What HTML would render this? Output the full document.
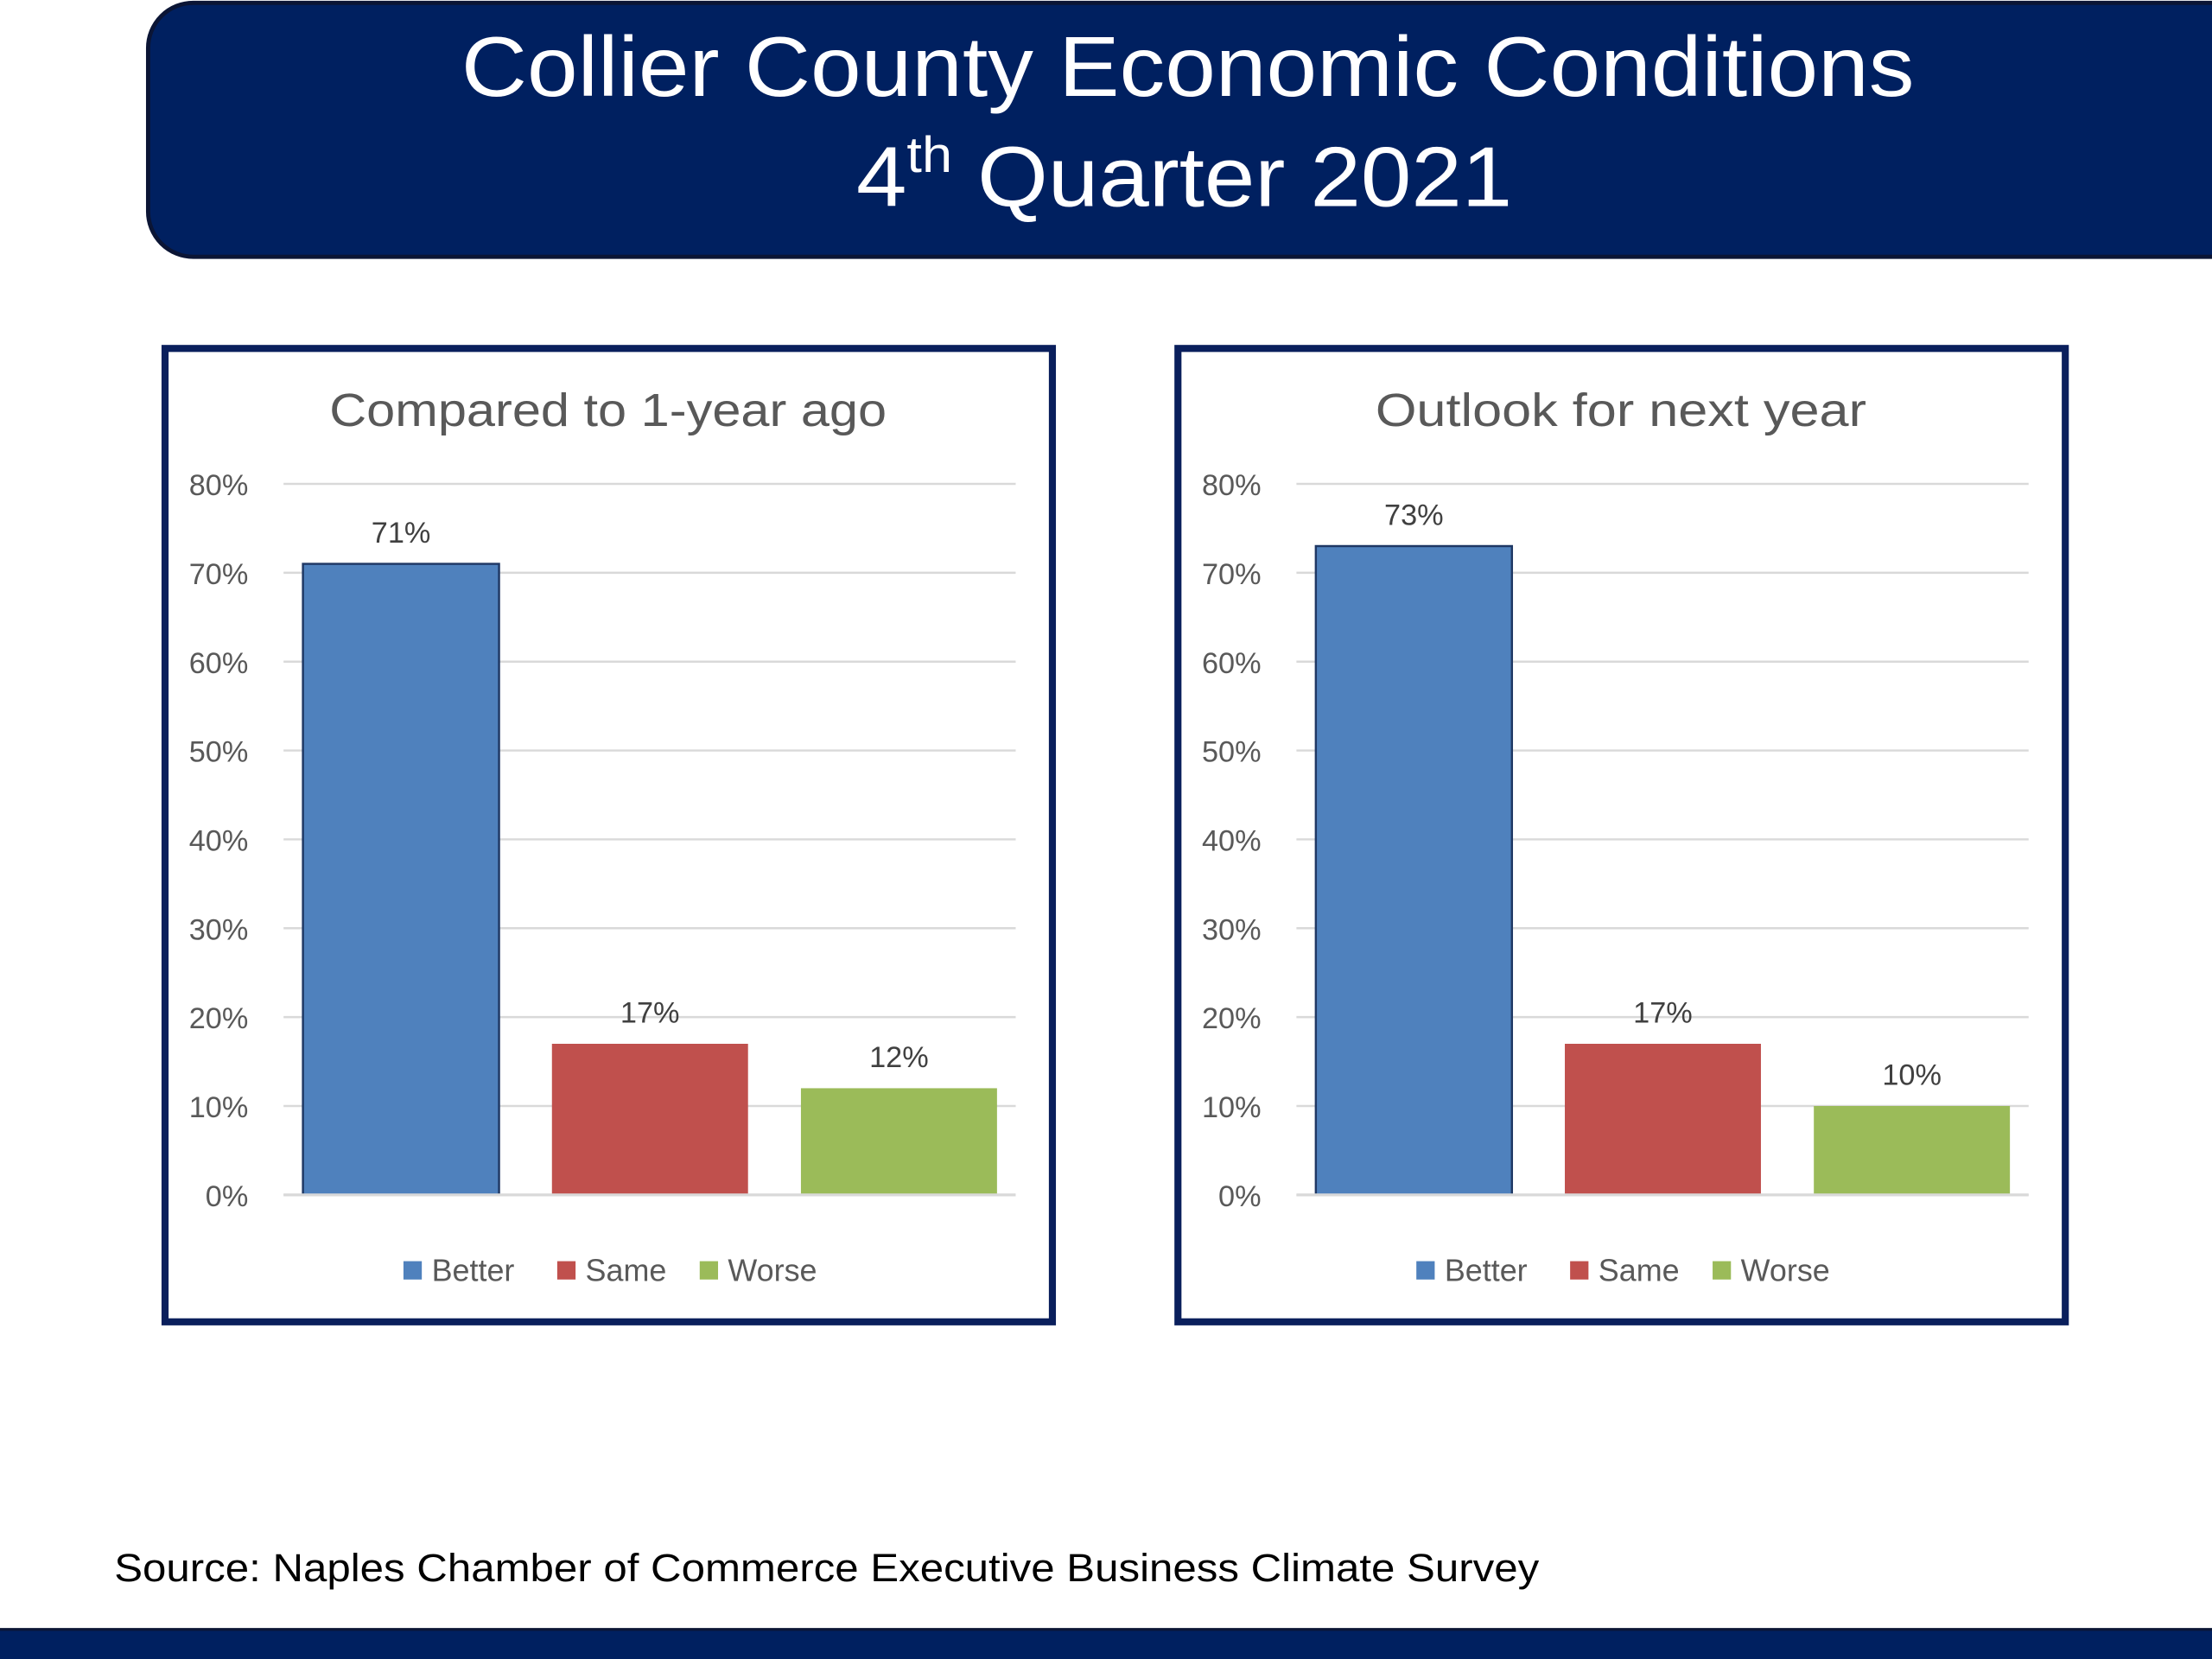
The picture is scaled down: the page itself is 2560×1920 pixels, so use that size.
<!DOCTYPE html>
<html><head><meta charset="utf-8"><style>
html,body{margin:0;padding:0;background:#fff;}
svg{display:block;}
</style></head><body>
<svg id="root" width="2560" height="1920" viewBox="0 0 1568 1176" xmlns="http://www.w3.org/2000/svg" font-family="Liberation Sans, sans-serif">
<rect x="105" y="2" width="1500" height="180" rx="32" fill="#002060" stroke="#0b1535" stroke-width="3"/>
<text x="327" y="68" fill="#fff" font-size="60" textLength="1030" lengthAdjust="spacingAndGlyphs">Collier County Economic Conditions</text>
<text x="607" y="146" fill="#fff" font-size="60" textLength="465" lengthAdjust="spacingAndGlyphs">4<tspan font-size="36" dy="-24">th</tspan><tspan dy="24"> Quarter 2021</tspan></text>
<g id="charts"></g>
<text x="81" y="1121" font-size="28" fill="#000" textLength="1010" lengthAdjust="spacingAndGlyphs">Source: Naples Chamber of Commerce Executive Business Climate Survey</text>
<rect x="0" y="1155" width="1568" height="21" fill="#002060"/>
<line x1="0" y1="1155" x2="1568" y2="1155" stroke="#0b1535" stroke-width="2"/>
</svg>
<script>
const categories = ["Better", "Same", "Worse"];
const chartTitles = ["Compared to 1-year ago", "Outlook for next year"];
const seriesPast = [71, 17, 12];
const seriesNext = [73, 17, 10];
const tickValues = [0, 10, 20, 30, 40, 50, 60, 70, 80];
const colors = ["#4f81bd", "#c0504d", "#9bbb59"];
const NS = "http://www.w3.org/2000/svg";
const g = document.getElementById("charts");
function mk(tag, attrs, parent) {
  const e = document.createElementNS(NS, tag);
  for (const k in attrs) e.setAttribute(k, attrs[k]);
  parent.appendChild(e);
  return e;
}
function drawChart(ox, title, titleLen, values, key) {
  const grp = mk("g", {}, g);
  
  
  const frame = mk("rect", {x: ox, y: 247, width: 629, height: 690, fill: "#fff", stroke: "#0a1f5c", "stroke-width": 5}, grp);
  
  
  const t = mk("text", {x: ox + 314 - titleLen / 2, y: 302, "font-size": 33, fill: "#595959", textLength: titleLen, lengthAdjust: "spacingAndGlyphs"}, grp);
  t.textContent = title;
  
  
  const y0 = 847, pxPer = 504 / 80;
  const yS = v => y0 - v * pxPer;
  const plotX0 = ox + 84, plotX1 = ox + 603;
  tickValues.forEach(v => {
    const l = mk("line", {x1: plotX0, x2: plotX1, y1: yS(v), y2: yS(v), stroke: "#d9d9d9", "stroke-width": 1.5}, grp);
    
    
    const tx = mk("text", {x: ox + 59, y: yS(v) + 8, "text-anchor": "end", "font-size": 21, fill: "#595959"}, grp);
    tx.textContent = v + "%";
    
    
  });
  const band = 176.5, bw = 139, bx0 = ox + 79;
  values.forEach((v, i) => {
    const cx = bx0 + band * (i + 0.5);
    const r = mk("rect", {x: cx - bw / 2, y: yS(v), width: bw, height: v * pxPer, fill: colors[i], stroke: i === 0 ? "#1f3864" : "none", "stroke-width": 1.5}, grp);
    
    
    const lb = mk("text", {x: cx, y: yS(v) - 15, "text-anchor": "middle", "font-size": 21, fill: "#404040"}, grp);
    lb.textContent = v + "%";
    
    
  });
  const ax = mk("line", {x1: plotX0, x2: plotX1, y1: y0, y2: y0, stroke: "#d9d9d9", "stroke-width": 2}, grp);
  
  
  const lx = [ox + 169, ox + 278, ox + 379];
  categories.forEach((c, i) => {
    const sq = mk("rect", {x: lx[i], y: 894, width: 13, height: 13, fill: colors[i]}, grp);
    
    
    const tx = mk("text", {x: lx[i] + 20, y: 908, "font-size": 22, fill: "#595959"}, grp);
    tx.textContent = c;
    
    
  });
}
drawChart(117, chartTitles[0], 395, seriesPast, "past");
drawChart(835, chartTitles[1], 348, seriesNext, "outlook");
</script>
</body></html>
